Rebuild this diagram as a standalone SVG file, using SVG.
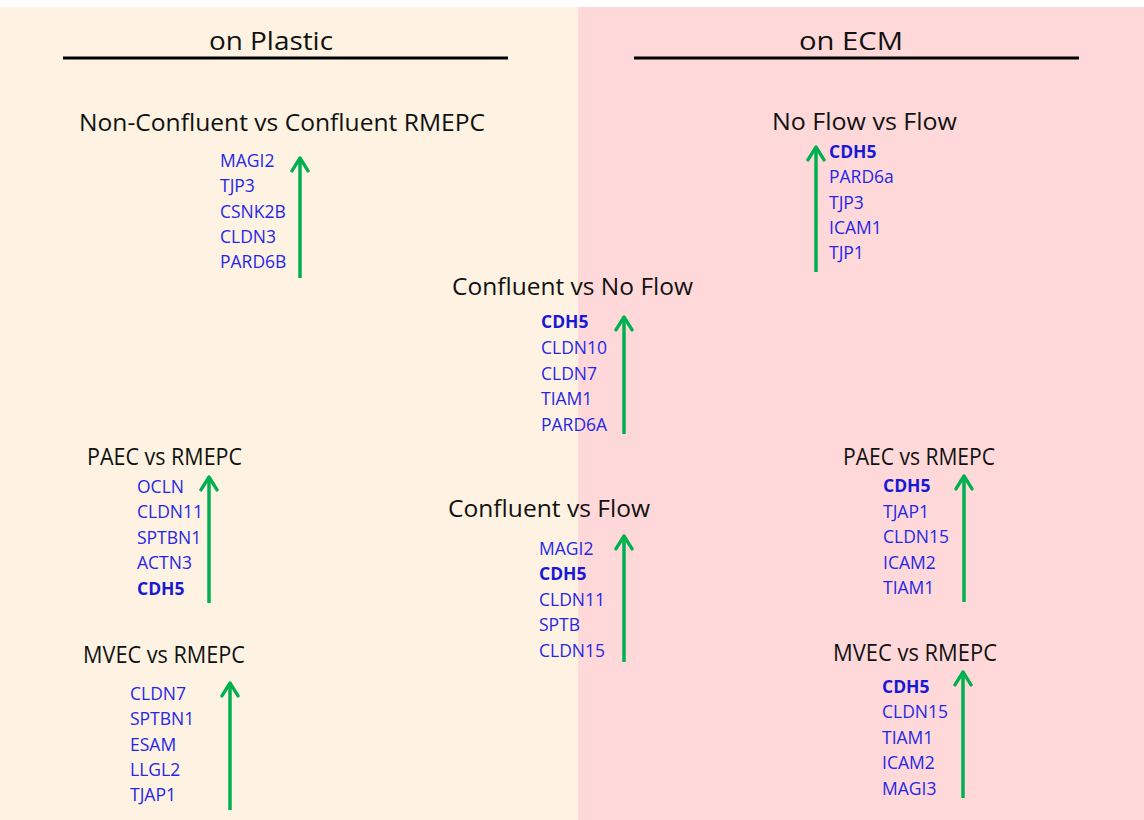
<svg xmlns="http://www.w3.org/2000/svg" width="1144" height="820" viewBox="0 0 1144 820">
  <style>
    .head { font-family: "Open Sans", "Noto Sans", "Liberation Sans", sans-serif; font-size: 23.5px; fill: #111; }
    .pane { font-family: "Open Sans", "Noto Sans", "Liberation Sans", sans-serif; font-size: 25px; fill: #111; }
    .gene { font-family: "Open Sans", "Noto Sans", "Liberation Sans", sans-serif; font-size: 17.5px; fill: #2626e8; }
    .gene .b { font-weight: bold; fill: #1818d6; }
    .rule { stroke: #000; stroke-width: 3; }
    .up { stroke: #00b050; stroke-width: 3.5; fill: none; marker-end: url(#chev); }
  </style>
  <defs>
    <!-- open chevron head, drawn pointing along +x so orient="auto" follows the shaft -->
    <marker id="chev" viewBox="0 0 12 12" refX="10.4" refY="6" markerWidth="6" markerHeight="6" orient="auto" markerUnits="strokeWidth">
      <path d="M3,1.4 L10.4,6 L3,10.6" fill="none" stroke="#00b050" stroke-width="1.9" stroke-linecap="round" stroke-linejoin="round"/>
    </marker>
  </defs>

  <!-- backgrounds -->
  <rect x="0" y="0" width="1144" height="820" fill="#ffffff"/>
  <rect x="0" y="7" width="578" height="813" fill="#fef3e2"/>
  <rect x="578" y="7" width="566" height="813" fill="#ffd9da"/>

  <!-- pane headers -->
  <g id="hdr-plastic">
    <text class="pane" x="271" y="50" text-anchor="middle" textLength="124" lengthAdjust="spacingAndGlyphs">on Plastic</text>
    <line class="rule" x1="63" y1="58" x2="508" y2="58"/>
  </g>
  <g id="hdr-ecm">
    <text class="pane" x="851" y="50" text-anchor="middle" textLength="104" lengthAdjust="spacingAndGlyphs">on ECM</text>
    <line class="rule" x1="634" y1="58" x2="1079" y2="58"/>
  </g>

  <!-- comparison blocks -->
  <g id="nonconf-vs-conf">
    <text class="head" x="79" y="131" textLength="406" lengthAdjust="spacingAndGlyphs">Non-Confluent vs Confluent RMEPC</text>
    <g class="gene">
      <text x="220" y="167">MAGI2</text>
      <text x="220" y="192">TJP3</text>
      <text x="220" y="218">CSNK2B</text>
      <text x="220" y="243">CLDN3</text>
      <text x="220" y="268">PARD6B</text>
    </g>
  </g>

  <g id="noflow-vs-flow">
    <text class="head" x="772" y="130" textLength="185" lengthAdjust="spacingAndGlyphs">No Flow vs Flow</text>
    <g class="gene">
      <text class="b" x="829" y="158">CDH5</text>
      <text x="829" y="183">PARD6a</text>
      <text x="829" y="209">TJP3</text>
      <text x="829" y="234">ICAM1</text>
      <text x="829" y="259">TJP1</text>
    </g>
  </g>

  <g id="conf-vs-noflow">
    <text class="head" x="452" y="295" textLength="241" lengthAdjust="spacingAndGlyphs">Confluent vs No Flow</text>
    <g class="gene">
      <text class="b" x="541" y="328">CDH5</text>
      <text x="541" y="354">CLDN10</text>
      <text x="541" y="380">CLDN7</text>
      <text x="541" y="405">TIAM1</text>
      <text x="541" y="431">PARD6A</text>
    </g>
  </g>

  <g id="paec-plastic">
    <text class="head" x="87" y="465" textLength="155" lengthAdjust="spacingAndGlyphs">PAEC vs RMEPC</text>
    <g class="gene">
      <text x="137" y="493">OCLN</text>
      <text x="137" y="518">CLDN11</text>
      <text x="137" y="544">SPTBN1</text>
      <text x="137" y="569">ACTN3</text>
      <text class="b" x="137" y="595">CDH5</text>
    </g>
  </g>

  <g id="conf-vs-flow">
    <text class="head" x="448" y="517" textLength="202" lengthAdjust="spacingAndGlyphs">Confluent vs Flow</text>
    <g class="gene">
      <text x="539" y="555">MAGI2</text>
      <text class="b" x="539" y="580">CDH5</text>
      <text x="539" y="606">CLDN11</text>
      <text x="539" y="631">SPTB</text>
      <text x="539" y="657">CLDN15</text>
    </g>
  </g>

  <g id="paec-ecm">
    <text class="head" x="843" y="465" textLength="152" lengthAdjust="spacingAndGlyphs">PAEC vs RMEPC</text>
    <g class="gene">
      <text class="b" x="883" y="492">CDH5</text>
      <text x="883" y="518">TJAP1</text>
      <text x="883" y="543">CLDN15</text>
      <text x="883" y="569">ICAM2</text>
      <text x="883" y="594">TIAM1</text>
    </g>
  </g>

  <g id="mvec-plastic">
    <text class="head" x="83" y="663" textLength="162" lengthAdjust="spacingAndGlyphs">MVEC vs RMEPC</text>
    <g class="gene">
      <text x="130" y="700">CLDN7</text>
      <text x="130" y="725">SPTBN1</text>
      <text x="130" y="751">ESAM</text>
      <text x="130" y="776">LLGL2</text>
      <text x="130" y="801">TJAP1</text>
    </g>
  </g>

  <g id="mvec-ecm">
    <text class="head" x="833" y="661" textLength="164" lengthAdjust="spacingAndGlyphs">MVEC vs RMEPC</text>
    <g class="gene">
      <text class="b" x="882" y="693">CDH5</text>
      <text x="882" y="718">CLDN15</text>
      <text x="882" y="744">TIAM1</text>
      <text x="882" y="769">ICAM2</text>
      <text x="882" y="795">MAGI3</text>
    </g>
  </g>

  <!-- upregulation arrows -->
  <g id="connectors">
    <line class="up" x1="300" y1="278" x2="300" y2="158"/>
    <line class="up" x1="816" y1="272" x2="816" y2="147"/>
    <line class="up" x1="624" y1="434" x2="624" y2="317"/>
    <line class="up" x1="209" y1="603" x2="209" y2="477"/>
    <line class="up" x1="624" y1="662" x2="624" y2="536"/>
    <line class="up" x1="964" y1="602" x2="964" y2="476"/>
    <line class="up" x1="230" y1="810" x2="230" y2="683"/>
    <line class="up" x1="963" y1="798" x2="963" y2="672"/>
  </g>
</svg>
